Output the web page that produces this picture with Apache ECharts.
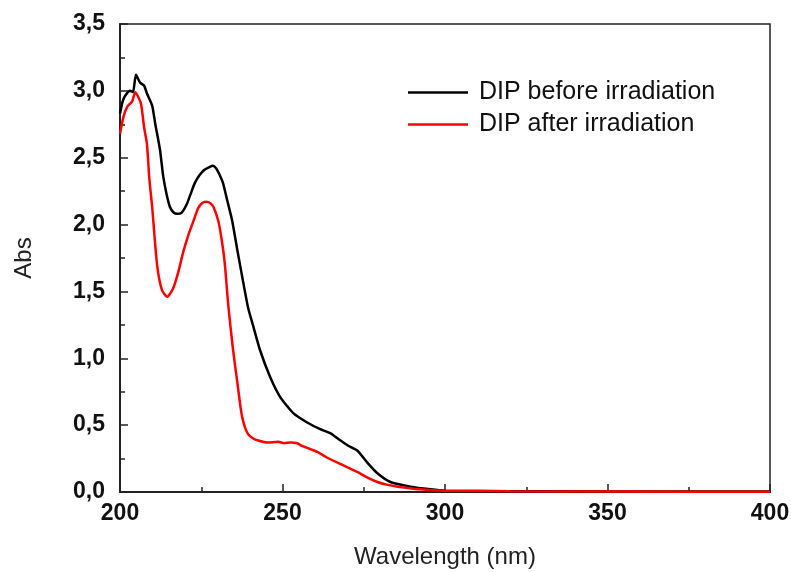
<!DOCTYPE html>
<html>
<head>
<meta charset="utf-8">
<script src="https://cdn.jsdelivr.net/npm/echarts@6/dist/echarts.min.js"></script>
<style>html,body{margin:0;padding:0;background:#fff;}#c{width:791px;height:572px;}</style>
</head>
<body>
<div id="c"></div>
<script>
const seriesNames = ['DIP before irradiation', 'DIP after irradiation'];
const xTicks = [200, 250, 300, 350, 400];
const yTicks = [0, 0.5, 1.0, 1.5, 2.0, 2.5, 3.0, 3.5];

const wlBefore = [200,200.8,201.5,203.1,204.0,204.9,206.2,207.4,208.3,209.9,210.8,212.3,213.3,214.4,215.4,216.5,217.6,219.0,220.5,221.6,223.0,224.5,226.0,227.5,228.6,229.6,230.5,231.7,233.0,234.5,236.1,237.6,239.4,241.0,243.1,246.2,249.3,253.3,257.6,261.6,264.7,267.0,270.0,273.0,276.1,279.2,283.2,289.4,295.5,300,320,350,400];
const absBefore = [2.83,2.92,2.96,3.00,2.99,3.12,3.06,3.04,2.98,2.89,2.76,2.56,2.36,2.22,2.13,2.09,2.08,2.09,2.15,2.22,2.31,2.37,2.41,2.43,2.44,2.42,2.38,2.31,2.18,2.03,1.81,1.61,1.38,1.24,1.06,0.86,0.71,0.59,0.52,0.47,0.44,0.40,0.35,0.31,0.22,0.14,0.075,0.04,0.02,0.01,0.006,0.004,0.003];

const wlAfter = [200,201.0,202.2,203.7,204.7,205.5,206.5,207.4,208.3,209.0,209.9,211.4,212.9,214.5,216.3,218.0,219.4,221.0,222.5,224.0,225.2,226.5,227.8,228.8,230.2,231.2,232.2,233.3,234.8,236.1,237.0,237.6,238.5,239.5,241.0,242.5,245.3,248.7,250.5,252.4,254.5,256.0,257.6,260.7,263.5,266.9,270.0,273.0,276.0,279.2,282,285.4,292.4,299.5,320,350,400];
const absAfter = [2.68,2.80,2.88,2.92,2.99,2.96,2.90,2.73,2.60,2.35,2.13,1.70,1.51,1.46,1.52,1.65,1.79,1.92,2.02,2.12,2.16,2.17,2.16,2.13,2.03,1.90,1.72,1.40,1.06,0.82,0.65,0.56,0.48,0.43,0.40,0.385,0.37,0.375,0.365,0.37,0.365,0.345,0.33,0.30,0.26,0.22,0.185,0.15,0.11,0.075,0.055,0.04,0.02,0.01,0.005,0.003,0.002];

const pairs = (xs, ys) => xs.map((x, i) => [x, ys[i]]);

const chart = echarts.init(document.getElementById('c'), null, {renderer: 'canvas'});
const FONT = '"Liberation Sans", Arial, sans-serif';
chart.setOption({
  animation: false,
  backgroundColor: '#fff',
  grid: {left: 120, right: 21, top: 24, bottom: 80, show: true, borderColor: '#222', borderWidth: 1.5,
         containLabel: false, outerBoundsMode: 'none'},
  legend: {
    orient: 'vertical', left: 403, top: 75, itemGap: 7,
    icon: 'rect', itemWidth: 60, itemHeight: 2.5,
    textStyle: {fontFamily: FONT, fontSize: 25, color: '#111', padding: [0, 0, 0, 6]},
    data: seriesNames
  },
  xAxis: {
    type: 'value', min: xTicks[0], max: xTicks[xTicks.length - 1], interval: 50,
    name: 'Wavelength (nm)', nameLocation: 'middle', nameGap: 53,
    nameTextStyle: {fontFamily: FONT, fontSize: 24, color: '#222'},
    axisLine: {show: true, lineStyle: {color: '#222', width: 2}},
    axisTick: {show: true, inside: true, length: 8, lineStyle: {color: '#222', width: 1.5}},
    minorTick: {show: true, splitNumber: 2, length: 5, lineStyle: {color: '#222', width: 1.5}},
    axisLabel: {fontFamily: FONT, fontSize: 23, fontWeight: 'bold', color: '#111', margin: 10},
    splitLine: {show: false}
  },
  yAxis: {
    type: 'value', min: yTicks[0], max: yTicks[yTicks.length - 1], interval: 0.5,
    name: 'Abs', nameLocation: 'middle', nameGap: 84, nameRotate: 90,
    nameTextStyle: {fontFamily: FONT, fontSize: 24, color: '#222'},
    axisLine: {show: true, lineStyle: {color: '#222', width: 2}},
    axisTick: {show: true, inside: true, length: 8, lineStyle: {color: '#222', width: 1.5}},
    minorTick: {show: true, splitNumber: 2, length: 5, lineStyle: {color: '#222', width: 1.5}},
    axisLabel: {fontFamily: FONT, fontSize: 23, fontWeight: 'bold', color: '#111', margin: 15,
      formatter: v => v.toFixed(1).replace('.', ',')},
    splitLine: {show: false}
  },
  series: [
    {name: seriesNames[0], type: 'line', data: pairs(wlBefore, absBefore), showSymbol: false, smooth: 0.2,
     lineStyle: {color: '#000', width: 2.5}, itemStyle: {color: '#000'}},
    {name: seriesNames[1], type: 'line', data: pairs(wlAfter, absAfter), showSymbol: false, smooth: 0.2,
     lineStyle: {color: '#ff0000', width: 2.5}, itemStyle: {color: '#ff0000'}}
  ]
});
</script>
</body>
</html>
